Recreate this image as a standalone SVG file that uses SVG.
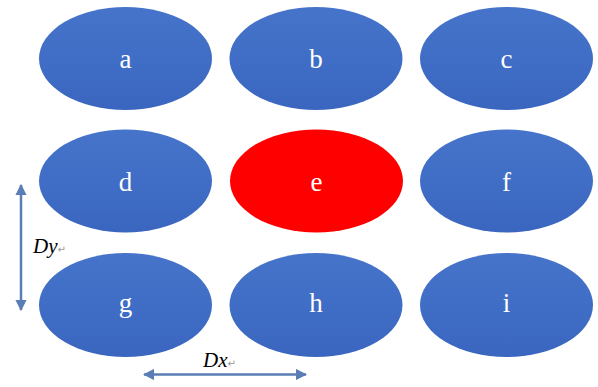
<svg xmlns="http://www.w3.org/2000/svg" width="598" height="387" viewBox="0 0 598 387">
<style>
.n{fill:url(#g)}
.r{fill:#FE0000}
.t{font-family:"Liberation Serif","DejaVu Serif",serif;font-size:27px;fill:#fff;text-anchor:middle}
.lab{font-family:"Liberation Serif",serif;font-style:italic;font-size:21px;fill:#000}
.rt{font-family:"DejaVu Sans",sans-serif;font-style:normal;font-size:10px;fill:#999}
.ar{stroke:#5A7DB5;stroke-width:2.5;fill:none}
</style>
<defs>
<linearGradient id="g" x1="0" y1="0" x2="0" y2="1">
<stop offset="0" stop-color="#4674CA"/>
<stop offset="1" stop-color="#3A66C0"/>
</linearGradient>
<marker id="ah" viewBox="0 0 10 10" refX="9" refY="5" markerWidth="4.5" markerHeight="4.5" orient="auto-start-reverse" markerUnits="strokeWidth">
<path d="M0,0L10,5L0,10z" fill="#5A7DB5"/>
</marker>
</defs>
<rect width="598" height="387" fill="#fff"/>
<g id="a"><ellipse class="n" cx="125.5" cy="58.5" rx="86.5" ry="51.5"/><text class="t" x="125.5" y="68">a</text></g>
<g id="b"><ellipse class="n" cx="316" cy="58.5" rx="86.5" ry="51.5"/><text class="t" x="316" y="68">b</text></g>
<g id="c"><ellipse class="n" cx="506.5" cy="58.5" rx="86.5" ry="51.5"/><text class="t" x="506.5" y="68">c</text></g>
<g id="d"><ellipse class="n" cx="125.5" cy="181" rx="86.5" ry="51.5"/><text class="t" x="125.5" y="190.5">d</text></g>
<g id="e"><ellipse class="r" cx="316.5" cy="181" rx="86.5" ry="51.5"/><text class="t" x="316.5" y="190.5">e</text></g>
<g id="f"><ellipse class="n" cx="506.5" cy="181" rx="86.5" ry="51.5"/><text class="t" x="506.5" y="190.5">f</text></g>
<g id="g1"><ellipse class="n" cx="125.5" cy="305" rx="86.5" ry="52"/><text class="t" x="125.5" y="312">g</text></g>
<g id="h"><ellipse class="n" cx="316" cy="305" rx="86.5" ry="52"/><text class="t" x="316" y="312">h</text></g>
<g id="i"><ellipse class="n" cx="506.5" cy="305" rx="86.5" ry="52"/><text class="t" x="506.5" y="312">i</text></g>
<g id="connectors">
<line class="ar" x1="21" y1="185" x2="21" y2="310" marker-start="url(#ah)" marker-end="url(#ah)"/>
<line class="ar" x1="144" y1="374.5" x2="306" y2="374.5" marker-start="url(#ah)" marker-end="url(#ah)"/>
</g>
<g id="labels">
<text class="lab" x="33" y="253">Dy<tspan class="rt">↵</tspan></text>
<text class="lab" x="203" y="367">Dx<tspan class="rt">↵</tspan></text>
</g>
</svg>
